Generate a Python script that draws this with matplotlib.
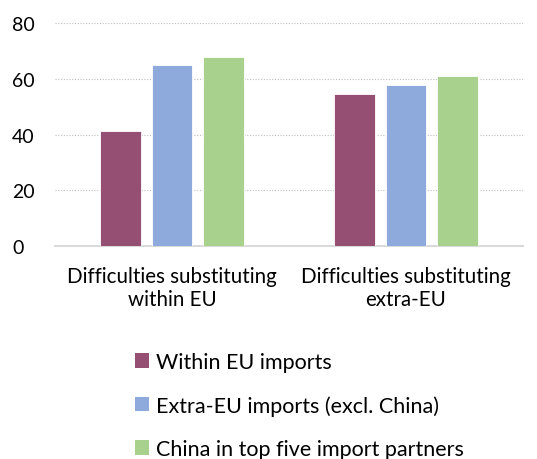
import matplotlib.pyplot as plt
import numpy as np
from matplotlib.patches import Patch

plt.rcParams['font.family'] = ['Lato', 'DejaVu Sans']

# Data
categories = ['Difficulties substituting\nwithin EU', 'Difficulties substituting\nextra-EU']
series_names = ['Within EU imports', 'Extra-EU imports (excl. China)', 'China in top five import partners']
within_eu = [41.3, 54.7]
extra_eu = [65.1, 57.7]
china_top5 = [67.7, 61.0]
colors = ['#954F72', '#8EA9DB', '#A9D18E']

fig = plt.figure(figsize=(5.37, 4.6), dpi=100)
ax = fig.add_axes([55 / 537, 1 - 247.3 / 460, 468 / 537, 223.3 / 460])

x = np.arange(len(categories))
width = 0.175
step = 0.222
for i, (vals, col) in enumerate(zip([within_eu, extra_eu, china_top5], colors)):
    ax.bar(x + (i - 1) * step, vals, width, color=col, edgecolor='white', linewidth=0.6, zorder=3)

ax.set_xlim(-0.5, 1.5)
ax.set_ylim(0, 80)
ax.set_yticks([0, 20, 40, 60, 80])
ax.yaxis.grid(True, linestyle=(0, (1, 1.5)), color='#bfbfbf', linewidth=0.8, zorder=0)
ax.set_xticks(x)
ax.set_xticklabels(categories, fontsize=14.8, linespacing=1.2)
ax.tick_params(axis='y', labelsize=14, length=0, pad=31)
ax.tick_params(axis='x', length=0, pad=14)
for lbl in ax.get_yticklabels():
    lbl.set_horizontalalignment('left')
for s in ['top', 'right', 'left']:
    ax.spines[s].set_visible(False)
ax.spines['bottom'].set_color('#d9d9d9')
ax.spines['bottom'].set_linewidth(1.5)

handles = [Patch(facecolor=c, edgecolor='none') for c in colors]
fig.legend(handles, series_names, loc='upper left', bbox_to_anchor=(124 / 537, 1 - 342 / 460),
           frameon=False, fontsize=15.5, handlelength=0.68, handleheight=0.68,
           handletextpad=0.3, labelspacing=1.08, borderpad=0)

fig.savefig('out.png', dpi=100)
